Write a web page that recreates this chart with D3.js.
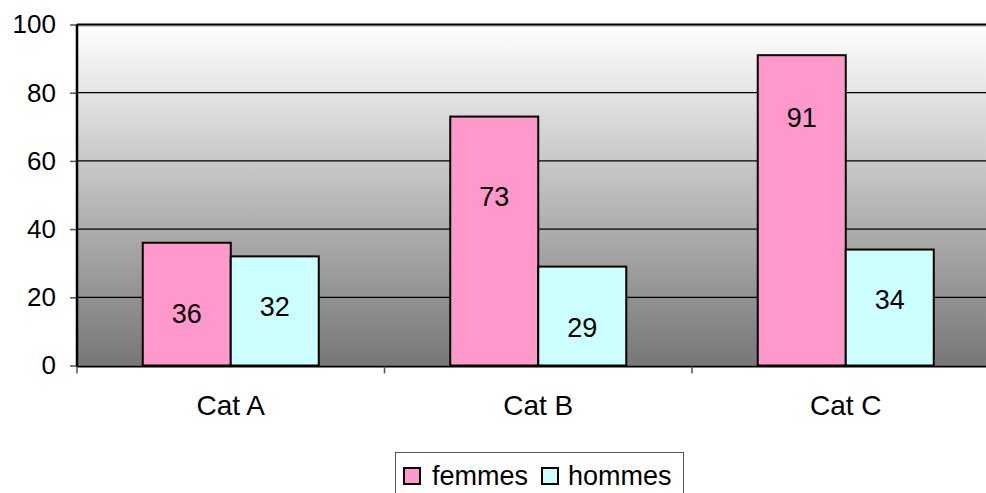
<!DOCTYPE html>
<html><head><meta charset="utf-8">
<script src="https://cdn.jsdelivr.net/npm/d3@7"></script>
<style>body{margin:0;background:#fff}svg{display:block;font-family:"Liberation Sans",Arial,sans-serif}</style>
</head><body>
<svg id="c" width="986" height="493"></svg>
<script>
const categories = ["Cat A", "Cat B", "Cat C"];
const seriesNames = ["femmes", "hommes"];
const femmes = [36, 73, 91];
const hommes = [32, 29, 34];
const femmesLabelAt = [15.3, 49.4, 72.7];
const hommesLabelAt = [17.2, 11.0, 19.4];
const yTicks = [0, 20, 40, 60, 80, 100];
const colors = ["#FF99CC", "#CCFFFF"];

(function () {
const svg = d3.select("#c");
const pLeft = 77, pTop = 24.5, pBottom = 365.5, step = 307.5;
const x0 = d3.scaleBand().domain(categories).range([pLeft, pLeft + step * 3])
  .paddingInner(0.4276).paddingOuter(0.2138);
const x1 = d3.scaleBand().domain(seriesNames).range([0, x0.bandwidth()]);
const y = d3.scaleLinear().domain([0, 100]).range([pBottom, pTop]);

const defs = svg.append("defs");
const g = defs.append("linearGradient").attr("id", "bg").attr("x1", 0).attr("y1", 0).attr("x2", 0).attr("y2", 1);
g.append("stop").attr("offset", 0).attr("stop-color", "#ffffff");
g.append("stop").attr("offset", 1).attr("stop-color", "#777777");

svg.append("rect").attr("x", pLeft).attr("y", pTop).attr("width", 986 - pLeft).attr("height", pBottom - pTop).attr("fill", "url(#bg)");

svg.append("g").selectAll("line").data(yTicks.filter(d => d > 0 && d < 100)).join("line")
  .attr("x1", pLeft).attr("x2", 986).attr("y1", d => y(d)).attr("y2", d => y(d))
  .attr("stroke", "#000").attr("stroke-width", 1.3);
svg.append("line").attr("x1", pLeft).attr("x2", 986).attr("y1", y(100) + 1.5).attr("y2", y(100) + 1.5).attr("stroke", "#999").attr("stroke-width", 1);
svg.append("line").attr("x1", pLeft).attr("x2", 986).attr("y1", y(100)).attr("y2", y(100)).attr("stroke", "#000").attr("stroke-width", 2);

const data = categories.map((c, i) => ({c, vals: [
  {s: "femmes", v: femmes[i], l: femmesLabelAt[i]},
  {s: "hommes", v: hommes[i], l: hommesLabelAt[i]}]}));

const grp = svg.append("g").selectAll("g").data(data).join("g")
  .attr("transform", d => `translate(${x0(d.c)},0)`);
grp.selectAll("rect").data(d => d.vals).join("rect")
  .attr("x", d => x1(d.s)).attr("y", d => y(d.v))
  .attr("width", x1.bandwidth()).attr("height", d => y(0) - y(d.v))
  .attr("fill", (d, i) => colors[i]).attr("stroke", "#000").attr("stroke-width", 2);
grp.selectAll("text").data(d => d.vals).join("text")
  .attr("x", d => x1(d.s) + x1.bandwidth() / 2).attr("y", d => y(d.l))
  .attr("dy", "0.35em").attr("text-anchor", "middle").attr("font-size", 27).attr("fill", "#000")
  .text(d => d.v);

const yAxis = d3.axisLeft(y).tickValues(yTicks).tickSize(7).tickPadding(14);
const ya = svg.append("g").attr("transform", `translate(${pLeft},0)`).call(yAxis);
ya.select(".domain").remove();
ya.selectAll("line").attr("stroke", "#555").attr("stroke-width", 1.5);
ya.selectAll("text").attr("font-size", 26).attr("fill", "#000").attr("font-family", '"Liberation Sans",Arial,sans-serif');
svg.append("line").attr("x1", pLeft).attr("x2", pLeft).attr("y1", pTop).attr("y2", pBottom + 1).attr("stroke", "#000").attr("stroke-width", 2.5);

svg.append("line").attr("x1", pLeft).attr("x2", 986).attr("y1", pBottom + 1).attr("y2", pBottom + 1).attr("stroke", "#000").attr("stroke-width", 2);
const bounds = categories.map((c, i) => pLeft + i * step).concat([pLeft + 3 * step]);
svg.append("g").selectAll("line").data(bounds).join("line")
  .attr("x1", d => d).attr("x2", d => d).attr("y1", pBottom + 1).attr("y2", pBottom + 8)
  .attr("stroke", "#555").attr("stroke-width", 1.5);
svg.append("g").selectAll("text").data(categories).join("text")
  .attr("x", d => x0(d) + x0.bandwidth() / 2).attr("y", 405).attr("dy", "0.35em")
  .attr("text-anchor", "middle").attr("font-size", 28).attr("fill", "#000").text(d => d);

const lg = svg.append("g");
lg.append("rect").attr("x", 395.5).attr("y", 452.5).attr("width", 288).attr("height", 60)
  .attr("fill", "#fff").attr("stroke", "#555").attr("stroke-width", 1);
const lx = [404, 542], tx = [432, 568];
seriesNames.forEach((s, i) => {
  lg.append("rect").attr("x", lx[i]).attr("y", 468).attr("width", 16).attr("height", 16)
    .attr("fill", colors[i]).attr("stroke", "#000").attr("stroke-width", 2);
  lg.append("text").attr("x", tx[i]).attr("y", 485).attr("font-size", 27).attr("fill", "#000").text(s);
});
})();
</script>
</body></html>
